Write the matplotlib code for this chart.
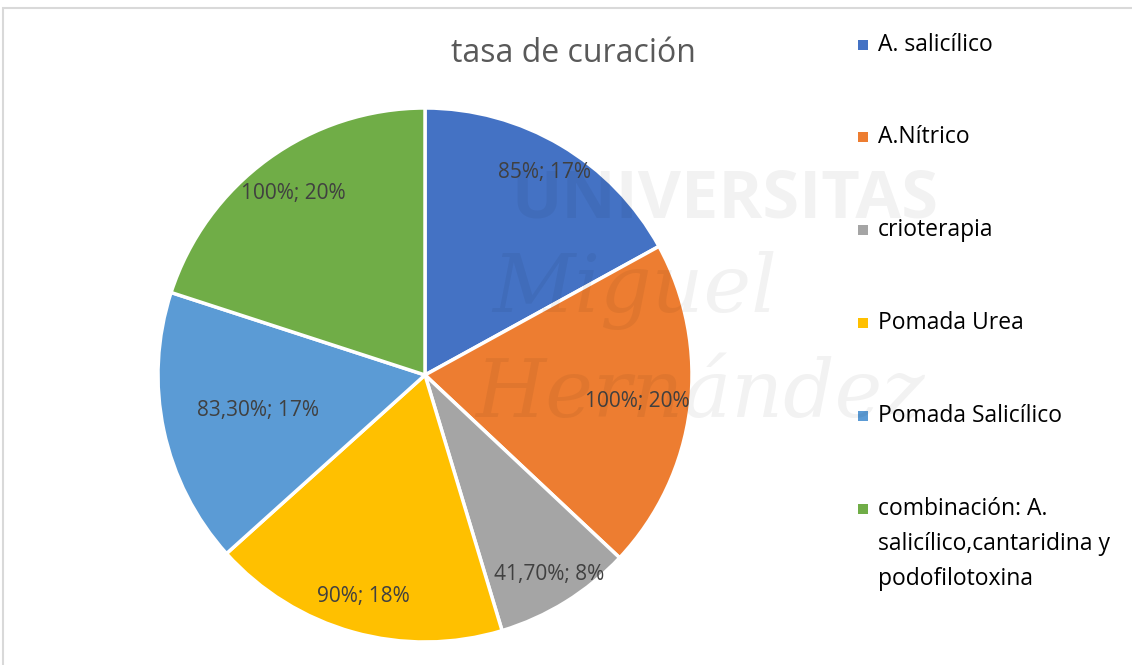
import numpy as np
import matplotlib.pyplot as plt
from matplotlib.patches import Rectangle

# data
categories = ['A. salicílico', 'A.Nítrico', 'crioterapia', 'Pomada Urea',
              'Pomada Salicílico',
              'combinación: A.\nsalicílico,cantaridina y\npodofilotoxina']
curacion = [85, 100, 41.7, 90, 83.3, 100]
curacion_txt = ['85%', '100%', '41,70%', '90%', '83,30%', '100%']
colores = ['#4472C4', '#ED7D31', '#A5A5A5', '#FFC000', '#5B9BD5', '#70AD47']

# radial placement of the data labels (fraction of radius), like Excel's best fit
label_r = [0.88, 0.80, 0.88, 0.86, 0.64, 0.84]

W, H = 1132, 665
fig = plt.figure(figsize=(W / 100, H / 100), dpi=100)
plt.rcParams['font.family'] = ['Open Sans', 'DejaVu Sans']

# frame of the chart area
fig.patches.append(Rectangle((3 / W, -0.05), 1.2, 1 - 8 / H + 0.05,
                             transform=fig.transFigure, fill=False,
                             edgecolor='#D9D9D9', linewidth=1.5))

ax = fig.add_axes([158 / W, 23 / H, 534 / W, 534 / H])
wedges, _ = ax.pie(curacion, colors=colores, startangle=90, counterclock=False,
                   radius=1, wedgeprops=dict(edgecolor='white', linewidth=2.5))
ax.set_xlim(-1, 1)
ax.set_ylim(-1, 1)
ax.set_aspect('equal')
ax.axis('off')

total = sum(curacion)
for w, r, v, t in zip(wedges, label_r, curacion, curacion_txt):
    ang = np.deg2rad((w.theta1 + w.theta2) / 2)
    pct = round(v / total * 100)
    ax.text(r * np.cos(ang), r * np.sin(ang), f'{t}; {pct}%',
            ha='center', va='center', fontsize=15, color='#404040', zorder=5)

# faint watermark
wm = dict(color='black', alpha=0.05, zorder=4, transform=fig.transFigure)
fig.text(725 / W, 1 - 200 / H, 'UNIVERSITAS', fontsize=48, fontweight='bold',
         ha='center', va='center', **wm)
fig.text(635 / W, 1 - 290 / H, 'Miguel', fontsize=58, style='italic',
         family='DejaVu Serif', ha='center', va='center', **wm)
fig.text(700 / W, 1 - 395 / H, 'Hernández', fontsize=58, style='italic',
         family='DejaVu Serif', ha='center', va='center', **wm)

fig.text(573 / W, 1 - 53 / H, 'tasa de curación', fontsize=23,
         color='#595959', ha='center', va='center')

# legend
leg_y = [45, 137, 230, 323, 416, 509]
for lab, c, y in zip(categories, colores, leg_y):
    fig.patches.append(Rectangle((858 / W, 1 - (y + 5) / H), 10 / W, 10 / H,
                                 transform=fig.transFigure, facecolor=c,
                                 edgecolor='none'))
    fig.text(878 / W, 1 - (y - 12) / H, lab, fontsize=16.5, color='black',
             ha='left', va='top', linespacing=1.6)

fig.savefig('out.png', dpi=100)
